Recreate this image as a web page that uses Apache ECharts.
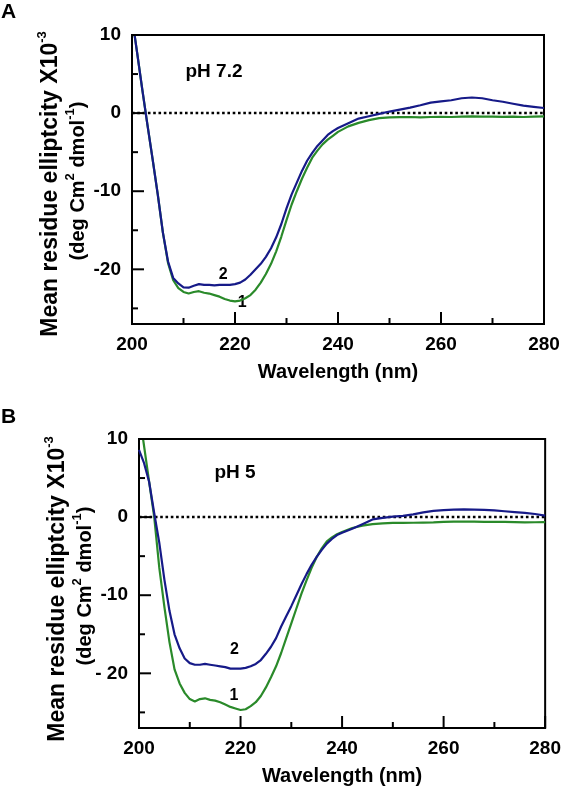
<!DOCTYPE html>
<html><head><meta charset="utf-8">
<script src="https://cdn.jsdelivr.net/npm/echarts@6/dist/echarts.min.js"></script>
<style>html,body{margin:0;padding:0;background:#fff}#c{width:564px;height:793px}</style>
</head><body><div id="c"></div>
<script>
// ---- data ----
const wavelength = [200,201,202,203,204,205,206,207,208,209,210,211,212,213,214,215,216,217,218,219,220,
  221,222,223,224,225,226,227,228,229,230,231,232,233,234,235,236,237,238,239,240,
  242,244,246,248,250,252,254,256,258,260,262,264,266,268,270,272,274,276,278,280];
// pH 7.2, curve 1 (green)
const ph72Curve1 = [12.3,7.7,3.0,-1.5,-5.9,-10.4,-15.3,-19.2,-21.4,-22.4,-22.9,-23.1,-22.9,-22.8,-23.0,-23.1,-23.3,-23.5,-23.8,-24.0,-24.1,
  -24.0,-23.7,-23.3,-22.6,-21.7,-20.6,-19.3,-17.7,-15.8,-13.7,-11.7,-10.0,-8.4,-7.0,-5.7,-4.8,-4.0,-3.4,-2.9,-2.4,
  -1.7,-1.25,-0.9,-0.65,-0.55,-0.52,-0.5,-0.55,-0.5,-0.48,-0.5,-0.45,-0.42,-0.45,-0.45,-0.48,-0.45,-0.5,-0.45,-0.43];
// pH 7.2, curve 2 (blue)
const ph72Curve2 = [12.3,7.7,3.0,-1.5,-5.9,-10.4,-15.3,-19.0,-21.1,-21.8,-22.3,-22.35,-22.1,-21.9,-22.0,-22.0,-22.05,-22.0,-22.0,-22.0,-21.9,
  -21.7,-21.3,-20.7,-20.0,-19.3,-18.4,-17.3,-15.9,-14.2,-12.2,-10.4,-8.9,-7.4,-6.1,-5.1,-4.2,-3.5,-2.8,-2.3,-1.9,
  -1.3,-0.7,-0.4,-0.1,0.2,0.45,0.7,1.0,1.35,1.5,1.65,1.9,2.0,1.9,1.65,1.45,1.2,0.95,0.8,0.65];
// pH 5, curve 1 (green)
const ph5Curve1 = [13.6,9.1,4.5,0.0,-6.5,-11.5,-16.0,-19.5,-21.3,-22.5,-23.3,-23.6,-23.3,-23.2,-23.4,-23.5,-23.7,-24.0,-24.3,-24.5,-24.7,
  -24.6,-24.2,-23.7,-22.9,-21.8,-20.5,-19.1,-17.4,-15.5,-13.6,-11.7,-9.8,-8.1,-6.5,-5.1,-4.0,-3.1,-2.6,-2.2,-1.9,
  -1.4,-1.1,-0.9,-0.8,-0.75,-0.75,-0.72,-0.7,-0.68,-0.6,-0.58,-0.56,-0.58,-0.6,-0.6,-0.62,-0.65,-0.68,-0.66,-0.65];
// pH 5, curve 2 (blue)
const ph5Curve2 = [8.6,6.9,4.5,0.5,-3.3,-8.0,-12.0,-15.0,-16.8,-18.1,-18.7,-18.9,-18.9,-18.8,-18.9,-19.0,-19.1,-19.2,-19.4,-19.4,-19.4,
  -19.3,-19.1,-18.8,-18.3,-17.5,-16.6,-15.5,-14.0,-12.7,-11.4,-10.0,-8.6,-7.3,-6.1,-5.1,-4.2,-3.4,-2.8,-2.3,-2.0,
  -1.5,-0.9,-0.3,-0.1,0.05,0.15,0.35,0.6,0.8,0.9,0.95,0.98,0.95,0.92,0.85,0.75,0.65,0.55,0.4,0.2];
const yMajorTicks = [-20,-10,0,10];
const yMinorTicks = [-25,-15,-5,5];
const xMajorTicks = [200,220,240,260,280];
const xMinorTicks = [210,230,250,270];
const panelTitles = ['pH 7.2','pH 5'];
const panelLetters = ['A','B'];
const curveNames = ['1','2'];
// curve-number annotation anchors in data units [wavelength, ellipticity]
const labelPosA = {'2':[217.7,-20.65], '1':[221.4,-24.2]};
const labelPosB = {'2':[218.8,-17.0], '1':[218.7,-22.9]};

// ---- styles ----
const FONT = '"Liberation Sans", Arial, Helvetica, sans-serif';
const BLUE = '#161a88';
const GREEN = '#2a8a2a';
const Y_MIN = -27, Y_MAX = 10, X_MIN = 200, X_MAX = 280;

const chart = echarts.init(document.getElementById('c'), null, {renderer:'canvas'});

function xAxisFor(g){
  return {type:'value', gridIndex:g, min:X_MIN, max:X_MAX, interval:20,
    axisLine:{show:true, onZero:false, lineStyle:{color:'#000', width:2}},
    axisTick:{show:false}, minorTick:{show:false},
    splitLine:{show:false}, minorSplitLine:{show:false},
    axisLabel:{margin:11, color:'#000', fontSize:19, fontWeight:'bold', fontFamily:FONT},
    name:'Wavelength (nm)', nameLocation:'middle', nameGap:38,
    nameTextStyle:{color:'#000', fontSize:20, fontWeight:'bold', fontFamily:FONT}};
}
function yAxisFor(g, fmt){
  return {type:'value', gridIndex:g, min:Y_MIN, max:Y_MAX, position:'left',
      axisLine:{show:true, onZero:false, lineStyle:{color:'#000', width:2}},
      axisTick:{show:false},
      axisLabel:{customValues:yMajorTicks, formatter:fmt, margin:11, color:'#000', fontSize:19, fontWeight:'bold', fontFamily:FONT},
      splitLine:{show:false}};
}
function series(g, vals, color, withZero){
  const s = {type:'line', xAxisIndex:g, yAxisIndex:g,
    data: wavelength.map((w,i)=>[w, vals[i]]),
    symbol:'none', showSymbol:false, clip:true, smooth:false,
    lineStyle:{color:color, width:2.2}, itemStyle:{color:color}, z:3};
  if (withZero) {
    s.markLine = {silent:true, symbol:['none','none'], label:{show:false},
      lineStyle:{color:'#000', type:[2.6,2.7], width:2.3}, data:[{yAxis:0}], z:2};
  }
  return s;
}

const option = {
  animation:false,
  backgroundColor:'#fff',
  grid:[
    {left:132, right:20, top:35, bottom:469, show:true, borderColor:'#000', borderWidth:2, containLabel:false},
    {left:139, right:12, top:439, bottom:65, show:true, borderColor:'#000', borderWidth:2, containLabel:false}
  ],
  xAxis:[xAxisFor(0), xAxisFor(1)],
  yAxis:[yAxisFor(0, v=>String(v)), yAxisFor(1, v=> v===-20 ? '- 20' : String(v))],
  series:[
    series(0, ph72Curve1, GREEN, true),
    series(0, ph72Curve2, BLUE, false),
    series(1, ph5Curve1, GREEN, true),
    series(1, ph5Curve2, BLUE, false)
  ]
};
chart.setOption(option);

function yName(cx, cy){
  const m1 = {fontSize:23, fontWeight:'bold', fontFamily:FONT, color:'#000', lineHeight:27, verticalAlign:'bottom'};
  const m2 = {fontSize:20, fontWeight:'bold', fontFamily:FONT, color:'#000', lineHeight:24, verticalAlign:'bottom'};
  const sup = {fontSize:13, fontWeight:'bold', fontFamily:FONT, color:'#000', lineHeight:14, verticalAlign:'top'};
  return [
    {type:'text', x:cx, y:cy, rotation:Math.PI/2,
      style:{text:'{m|Mean residue elliptcity X10}{s|-3}', rich:{m:m1, s:sup}, align:'center', verticalAlign:'middle'}},
    {type:'text', x:cx+27, y:cy-3, rotation:Math.PI/2,
      style:{text:'{m|(deg Cm}{s|2}{m| dmol}{s|-1}{m|)}', rich:{m:m2, s:sup}, align:'center', verticalAlign:'middle'}}
  ];
}
function plain(text, x, y, size, align){
  return {type:'text', x:x, y:y, style:{text:text, fontSize:size, fontWeight:'bold', fontFamily:FONT, fill:'#000', align:align||'center', verticalAlign:'middle'}};
}
function tick(x1,y1,x2,y2){
  return {type:'line', shape:{x1:x1,y1:y1,x2:x2,y2:y2}, style:{stroke:'#000', lineWidth:2}, z:10, silent:true};
}
const graphics = [];
[0,1].forEach(g=>{
  yMajorTicks.forEach(v=>{ const p = chart.convertToPixel({gridIndex:g}, [X_MIN, v]); graphics.push(tick(p[0], p[1], p[0]+12, p[1])); });
  yMinorTicks.forEach(v=>{ const p = chart.convertToPixel({gridIndex:g}, [X_MIN, v]); graphics.push(tick(p[0], p[1], p[0]+6, p[1])); });
  xMajorTicks.forEach(v=>{ const p = chart.convertToPixel({gridIndex:g}, [v, Y_MIN]); graphics.push(tick(p[0], p[1], p[0], p[1]-12)); });
  xMinorTicks.forEach(v=>{ const p = chart.convertToPixel({gridIndex:g}, [v, Y_MIN]); graphics.push(tick(p[0], p[1], p[0], p[1]-6)); });
});
graphics.push(...yName(49, 184));
graphics.push(...yName(56, 589));
graphics.push(plain(panelLetters[0], 1, 12, 21, 'left'));
graphics.push(plain(panelLetters[1], 1, 417, 21, 'left'));
graphics.push(plain(panelTitles[0], 214, 72, 19));
graphics.push(plain(panelTitles[1], 235, 473, 19));
curveNames.forEach(n=>{
  const pa = chart.convertToPixel({gridIndex:0}, labelPosA[n]);
  graphics.push(plain(n, pa[0], pa[1], 16));
  const pb = chart.convertToPixel({gridIndex:1}, labelPosB[n]);
  graphics.push(plain(n, pb[0], pb[1], 16));
});
chart.setOption({graphic:graphics});
</script>
</body></html>
